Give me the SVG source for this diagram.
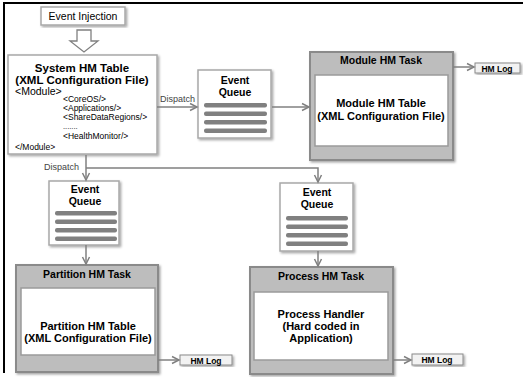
<svg xmlns="http://www.w3.org/2000/svg" width="523" height="377" viewBox="0 0 523 377">
<defs>
<filter id="sh" x="-10%" y="-10%" width="125%" height="125%">
<feDropShadow dx="1.5" dy="1.5" stdDeviation="1" flood-color="#000" flood-opacity="0.35"/>
</filter>
<marker id="ah" markerWidth="10" markerHeight="10" refX="8" refY="5" orient="auto" markerUnits="userSpaceOnUse">
<path d="M1,1.5 L8,5 L1,8.5" fill="none" stroke="#808080" stroke-width="1.5"/>
</marker>
</defs>
<style>
.frame{stroke:#000;stroke-width:2;fill:none}
.wbox{fill:#fff;stroke:#a8a8a8;stroke-width:1.5}
.task{fill:#bdbdbd;stroke:#8a8a8a;stroke-width:2}
.inner{fill:#fff;stroke:#9a9a9a;stroke-width:1.5}
.log{fill:#f2f2f2;stroke:#8a8a8a;stroke-width:1}
.bar{fill:#808080}
.conn{stroke:#808080;stroke-width:1.5;fill:none}
.t{font-family:"Liberation Sans",Arial,sans-serif;fill:#000}
.b{font-weight:bold}
.c{text-anchor:middle}
.lbl{font-family:"Liberation Sans",Arial,sans-serif;font-size:9px;fill:#444}
</style>
<rect width="523" height="377" fill="#fff"/>
<path class="frame" d="M4,373 L4,3 L523,3"/>

<g id="event-injection">
<rect class="wbox" x="41" y="7" width="84" height="18" filter="url(#sh)"/>
<text class="t c" x="83" y="20" font-size="10.5">Event Injection</text>
</g>
<g id="injection-arrow">
<path d="M77,30 L91,30 L91,41 L98,41 L84,52 L70,41 L77,41 Z" fill="#fff" stroke="#808080" stroke-width="1.3"/>
</g>

<g id="system-hm-table">
<rect class="wbox" x="8" y="55" width="149" height="99" filter="url(#sh)"/>
<text class="t b c" x="82" y="72" font-size="11.5">System HM Table</text>
<text class="t b c" x="82" y="84" font-size="11.5">(XML Configuration File)</text>
<text class="t" x="15" y="95" font-size="10.5">&lt;Module&gt;</text>
<text class="t" x="63" y="101.5" font-size="8.5">&lt;CoreOS/&gt;</text>
<text class="t" x="63" y="110.5" font-size="8.5">&lt;Applications/&gt;</text>
<text class="t" x="63" y="119.5" font-size="8.5">&lt;ShareDataRegions/&gt;</text>
<text class="t" x="63" y="128.5" font-size="7.5">.......</text>
<text class="t" x="63" y="139" font-size="8.5">&lt;HealthMonitor/&gt;</text>
<text class="t" x="15" y="150" font-size="8.5">&lt;/Module&gt;</text>
</g>

<g id="event-queue-1">
<rect class="wbox" x="198" y="70" width="73" height="68" filter="url(#sh)"/>
<text class="t b c" x="235" y="84" font-size="10.5">Event</text>
<text class="t b c" x="235" y="96" font-size="10.5">Queue</text>
<rect class="bar" x="204" y="103" width="63" height="4.5" rx="2"/>
<rect class="bar" x="204" y="111.5" width="63" height="4.5" rx="2"/>
<rect class="bar" x="204" y="120" width="63" height="4.5" rx="2"/>
<rect class="bar" x="204" y="128.5" width="63" height="4.5" rx="2"/>
</g>

<g id="module-hm-task">
<rect class="task" x="310" y="52" width="143" height="108" filter="url(#sh)"/>
<text class="t b c" x="381" y="64" font-size="10.5">Module HM Task</text>
<rect class="inner" x="315" y="75" width="133" height="71"/>
<text class="t b c" x="381" y="107" font-size="11">Module HM Table</text>
<text class="t b c" x="381" y="120" font-size="11">(XML Configuration File)</text>
</g>

<g id="hm-log-1">
<rect class="log" x="475" y="63" width="45" height="10" filter="url(#sh)"/>
<text class="t b c" x="497" y="71.5" font-size="8.5">HM Log</text>
</g>

<g id="event-queue-2">
<rect class="wbox" x="49" y="181" width="70" height="64" filter="url(#sh)"/>
<text class="t b c" x="85" y="193" font-size="10.5">Event</text>
<text class="t b c" x="85" y="205" font-size="10.5">Queue</text>
<rect class="bar" x="55" y="211" width="62" height="4.5" rx="2"/>
<rect class="bar" x="55" y="219.5" width="62" height="4.5" rx="2"/>
<rect class="bar" x="55" y="228" width="62" height="4.5" rx="2"/>
<rect class="bar" x="55" y="236.5" width="62" height="4.5" rx="2"/>
</g>

<g id="partition-hm-task">
<rect class="task" x="16" y="265" width="142" height="107" filter="url(#sh)"/>
<text class="t b c" x="87" y="278" font-size="10.5">Partition HM Task</text>
<rect class="inner" x="21" y="288" width="134" height="67"/>
<text class="t b c" x="88" y="330" font-size="11">Partition HM Table</text>
<text class="t b c" x="88" y="342" font-size="11">(XML Configuration File)</text>
</g>

<g id="hm-log-2">
<rect class="log" x="180" y="355" width="52" height="10" filter="url(#sh)"/>
<text class="t b c" x="206" y="363.5" font-size="8.5">HM Log</text>
</g>

<g id="event-queue-3">
<rect class="wbox" x="280" y="183" width="73" height="68" filter="url(#sh)"/>
<text class="t b c" x="317" y="196" font-size="10.5">Event</text>
<text class="t b c" x="317" y="208" font-size="10.5">Queue</text>
<rect class="bar" x="286" y="216" width="62" height="4.5" rx="2"/>
<rect class="bar" x="286" y="224.5" width="62" height="4.5" rx="2"/>
<rect class="bar" x="286" y="233" width="62" height="4.5" rx="2"/>
<rect class="bar" x="286" y="241.5" width="62" height="4.5" rx="2"/>
</g>

<g id="process-hm-task">
<rect class="task" x="250" y="267" width="143" height="107" filter="url(#sh)"/>
<text class="t b c" x="321" y="280" font-size="10.5">Process HM Task</text>
<rect class="inner" x="254" y="292" width="134" height="68"/>
<text class="t b c" x="321" y="318" font-size="11">Process Handler</text>
<text class="t b c" x="321" y="330" font-size="11">(Hard coded in</text>
<text class="t b c" x="321" y="342" font-size="11">Application)</text>
</g>

<g id="hm-log-3">
<rect class="log" x="412" y="354" width="51" height="11" filter="url(#sh)"/>
<text class="t b c" x="437" y="363" font-size="8.5">HM Log</text>
</g>

<g id="connectors">
<path class="conn" d="M157,107 L197,107" marker-end="url(#ah)"/>
<text class="lbl" x="160" y="102">Dispatch</text>
<path class="conn" d="M272,107 L309,107" marker-end="url(#ah)"/>
<path class="conn" d="M453,67 L474,67" marker-end="url(#ah)"/>
<path class="conn" d="M86,155 L86,180" marker-end="url(#ah)"/>
<text class="lbl" x="44" y="170">Dispatch</text>
<path class="conn" d="M86,168 L318,168 L318,182" marker-end="url(#ah)"/>
<path class="conn" d="M86,245 L86,264" marker-end="url(#ah)"/>
<path class="conn" d="M318,251 L318,266" marker-end="url(#ah)"/>
<path class="conn" d="M158,360 L179,360" marker-end="url(#ah)"/>
<path class="conn" d="M393,360 L411,360" marker-end="url(#ah)"/>
</g>
</svg>
